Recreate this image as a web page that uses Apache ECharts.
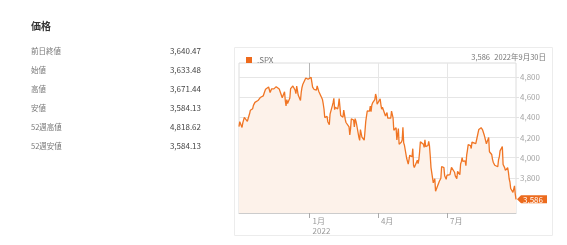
<!DOCTYPE html>
<html><head><meta charset="utf-8">
<script src="https://cdn.jsdelivr.net/npm/echarts@6/dist/echarts.min.js"></script>
<style>html,body{margin:0;padding:0;background:#fff}#c{width:567px;height:245px}</style>
</head><body><div id="c"></div>
<script>
const FONT = '"Noto Sans CJK JP", "Noto Sans", sans-serif';
const seriesName = '.SPX';
const priceLabels = ['前日終値', '始値', '高値', '安値', '52週高値', '52週安値'];
const priceValues = ['3,640.47', '3,633.48', '3,671.44', '3,584.13', '4,818.62', '3,584.13'];
const monthTickDates = ['2022-01-01', '2022-04-01', '2022-07-01'];
const monthTickLabels = ['1月\n2022', '4月', '7月'];
const yTicks = [3800, 4000, 4200, 4400, 4600, 4800];

const tradeDays = {
  '2021-09': [30],
  '2021-10': [1,4,5,6,7,8,11,12,13,14,15,18,19,20,21,22,25,26,27,28,29],
  '2021-11': [1,2,3,4,5,8,9,10,11,12,15,16,17,18,19,22,23,24,26,29,30],
  '2021-12': [1,2,3,6,7,8,9,10,13,14,15,16,17,20,21,22,23,27,28,29,30,31],
  '2022-01': [3,4,5,6,7,10,11,12,13,14,18,19,20,21,24,25,26,27,28,31],
  '2022-02': [1,2,3,4,7,8,9,10,11,14,15,16,17,18,22,23,24,25,28],
  '2022-03': [1,2,3,4,7,8,9,10,11,14,15,16,17,18,21,22,23,24,25,28,29,30,31],
  '2022-04': [1,4,5,6,7,8,11,12,13,14,18,19,20,21,22,25,26,27,28,29],
  '2022-05': [2,3,4,5,6,9,10,11,12,13,16,17,18,19,20,23,24,25,26,27,31],
  '2022-06': [1,2,3,6,7,8,9,10,13,14,15,16,17,21,22,23,24,27,28,29,30],
  '2022-07': [1,5,6,7,8,11,12,13,14,15,18,19,20,21,22,25,26,27,28,29],
  '2022-08': [1,2,3,4,5,8,9,10,11,12,15,16,17,18,19,22,23,24,25,26,29,30,31],
  '2022-09': [1,2,6,7,8,9,12,13,14,15,16,19,20,21,22,23,26,27,28,29,30]
};
const closes = [
  4308,
  4357,4300,4345,4363,4399,4391,4361,4351,4364,4438,4471,4486,4519,4536,4549,4545,4567,4575,4551,4597,4605,
  4614,4631,4660,4680,4697,4702,4685,4647,4649,4683,4683,4701,4689,4705,4698,4682,4691,4701,4595,4655,4567,
  4513,4577,4538,4592,4686,4701,4668,4712,4669,4635,4710,4669,4621,4568,4649,4697,4726,4791,4786,4793,4778,4766,
  4797,4794,4701,4696,4677,4670,4713,4726,4660,4663,4577,4533,4483,4398,4410,4357,4350,4327,4432,4516,
  4546,4589,4477,4501,4484,4522,4587,4504,4419,4402,4472,4475,4380,4349,4305,4226,4288,4385,4374,
  4306,4387,4364,4329,4201,4171,4278,4260,4204,4173,4262,4358,4412,4463,4462,4512,4457,4520,4543,4576,4632,4602,4530,
  4546,4583,4525,4481,4501,4488,4413,4397,4447,4393,4392,4463,4459,4394,4272,4297,4175,4184,4288,4132,
  4155,4175,4301,4147,4123,3991,4001,3935,3930,4024,4008,4089,3924,3901,3901,3974,3941,3979,4058,4158,4132,
  4101,4177,4109,4121,4161,4116,4018,3901,3750,3735,3790,3667,3675,3765,3760,3796,3912,3901,3821,3819,3785,
  3825,3831,3845,3903,3899,3855,3819,3802,3790,3863,3831,3937,3960,3999,3962,3967,3921,4024,4073,4130,
  4119,4091,4155,4152,4145,4140,4122,4210,4208,4280,4297,4305,4275,4284,4228,4138,4128,4141,4199,4058,4031,3986,3955,
  3967,3924,3909,3980,4006,4067,4110,3932,3946,3901,3873,3900,3856,3790,3758,3693,3655,3647,3719,3640,3586
];

const ts = d => Date.UTC(+d.slice(0, 4), +d.slice(5, 7) - 1, +d.slice(8, 10));
const dates = [];
Object.keys(tradeDays).forEach(m => tradeDays[m].forEach(d => dates.push(m + '-' + String(d).padStart(2, '0'))));
const data = dates.map((d, i) => [ts(d), closes[i]]);
const lastDate = dates[dates.length - 1];
const lastVal = closes[closes.length - 1];
const fmt = v => Math.round(v).toLocaleString('en-US');
const tickTs = monthTickDates.map(ts);
const [ly, lm, ld] = lastDate.split('-').map(Number);

const chart = echarts.init(document.getElementById('c'), null, {renderer: 'canvas'});
const graphics = [
  {type: 'rect', shape: {x: 234.5, y: 47.5, width: 318, height: 188}, style: {fill: 'none', stroke: '#ececec', lineWidth: 1}, silent: true, z: -10},
  {type: 'text', left: 31, top: 21, style: {text: '価格', font: 'bold 10px ' + FONT, fill: '#333'}},
  {type: 'text', style: {x: 490, y: 57, text: fmt(lastVal), font: '7.5px ' + FONT, fill: '#777', align: 'right', verticalAlign: 'middle'}},
  {type: 'text', style: {x: 546, y: 57, text: ly + '年' + lm + '月' + ld + '日', font: '7.5px ' + FONT, fill: '#777', align: 'right', verticalAlign: 'middle'}}
];
priceLabels.forEach((t, i) => {
  const y = 51 + i * 19;
  graphics.push({type: 'text', style: {x: 31, y: y, text: t, font: '7.5px ' + FONT, fill: '#777', verticalAlign: 'middle'}});
  graphics.push({type: 'text', style: {x: 201, y: y, text: priceValues[i], font: '8px ' + FONT, fill: '#444', align: 'right', verticalAlign: 'middle'}});
});

chart.setOption({
  animation: false,
  textStyle: {fontFamily: FONT},
  legend: {
    data: [seriesName], left: 241, top: 51, icon: 'rect', itemWidth: 6, itemHeight: 6, itemGap: 4,
    textStyle: {fontSize: 8, color: '#777'}
  },
  grid: {left: 239, right: 51, top: 63, bottom: 32, show: true, borderColor: '#dcdcdc', borderWidth: 1, backgroundColor: '#fff'},
  xAxis: {
    type: 'value', min: ts(dates[0]), max: ts(lastDate),
    axisLine: {show: true, lineStyle: {color: '#ccc'}},
    axisTick: {show: true, customValues: tickTs, length: 5, lineStyle: {color: '#aaa'}},
    splitLine: {show: false},
    axisLabel: {
      customValues: tickTs, align: 'left', margin: 3, padding: [0, 0, 0, 3],
      fontSize: 8, lineHeight: 10, color: '#999',
      formatter: v => { const i = tickTs.indexOf(v); return i >= 0 ? monthTickLabels[i] : ''; }
    }
  },
  yAxis: {
    type: 'value', position: 'right', min: 3450, max: 4940,
    axisLine: {show: false},
    axisTick: {show: true, customValues: yTicks, length: 3, inside: false, lineStyle: {color: '#e2e2e2'}},
    axisLabel: {customValues: yTicks, fontSize: 8, color: '#a5a5a5', margin: 4, formatter: v => fmt(v)},
    splitLine: {show: false}
  },
  series: [{
    name: seriesName, type: 'line', data: data, showSymbol: false, symbol: 'none',
    color: '#ee6a1c',
    lineStyle: {color: '#f07524', width: 1.3},
    areaStyle: {color: '#fdf2ea', opacity: 1, origin: 'start'},
    markLine: {
      silent: true, symbol: 'none', label: {show: false}, z: 1,
      data: yTicks.map(v => ({yAxis: v, lineStyle: {color: '#e6e6e6', width: 1, type: 'solid'}}))
        .concat(tickTs.map((d, i) => ({xAxis: d, lineStyle: {color: i === 0 ? '#b5b5b5' : '#e6e6e6', width: 1, type: 'solid'}})))
    },
    markPoint: {
      symbol: 'path://M0,4L4,0L30,0L30,8L4,8Z', symbolSize: [30, 8], symbolKeepAspect: false,
      symbolOffset: [16, 0], itemStyle: {color: '#ec6b1e'},
      label: {show: true, position: 'inside', offset: [1, 0.5], color: '#fff', fontSize: 8, formatter: p => fmt(p.value)},
      data: [{coord: [ts(lastDate), lastVal], value: lastVal}]
    }
  }],
  graphic: graphics
});
</script></body></html>
